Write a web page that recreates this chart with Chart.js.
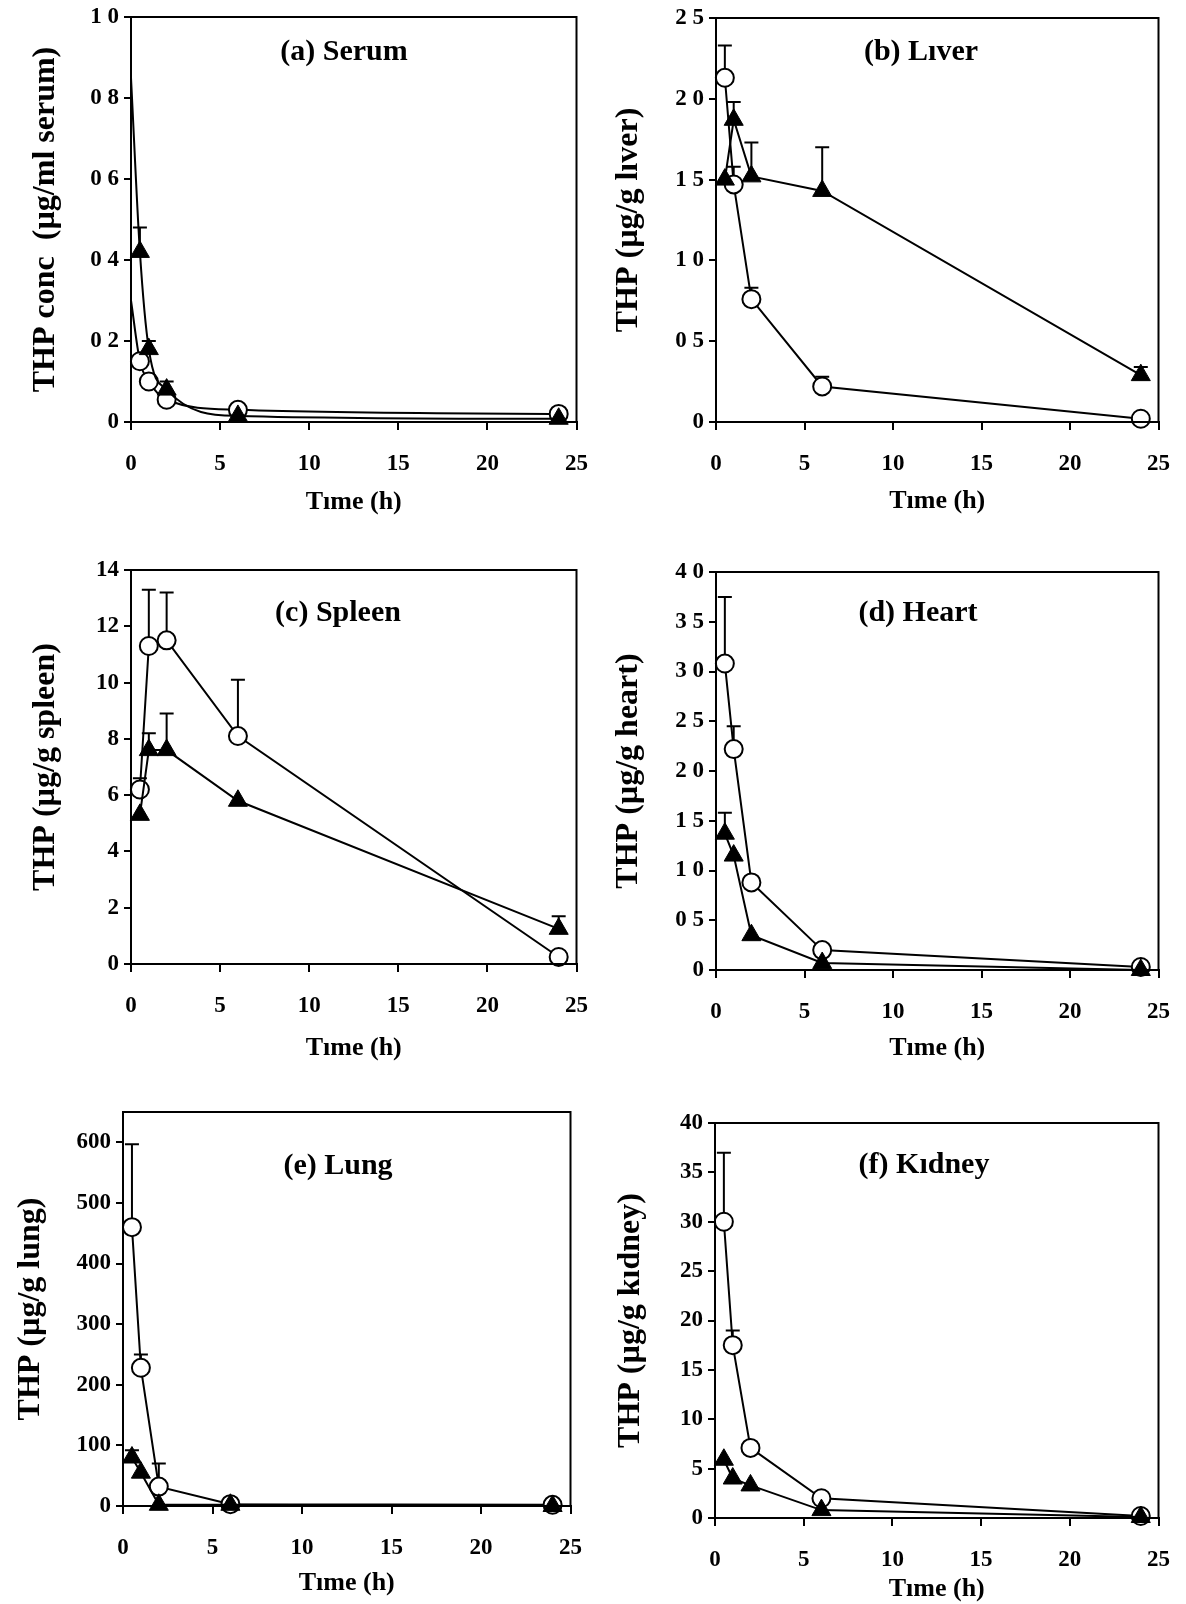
<!DOCTYPE html>
<html>
<head>
<meta charset="utf-8">
<script src="https://cdn.jsdelivr.net/npm/chart.js@4.4.0/dist/chart.umd.min.js"></script>
<style>
  body { margin: 0; background: #fff; }
  #page { position: relative; width: 1186px; height: 1604px; background: #fff; overflow: hidden; }
  canvas { position: absolute; }
</style>
</head>
<body>
<div id="page"></div>
<script>
// sampling times (h)
var times = [0.5, 1, 2, 6, 24];
var serumTimes = [0, 0.5, 1, 2, 6, 24];
var xTicks = [0, 5, 10, 15, 20, 25];
var xTickLabels = ['0', '5', '10', '15', '20', '25'];

// (a) serum
var serumCircle = [0.30, 0.15, 0.10, 0.055, 0.03, 0.02];
var serumCircleErr = [null, null, null, null, null, null];
var serumTri = [0.85, 0.42, 0.18, 0.08, 0.015, 0.008];
var serumTriErr = [null, 0.48, 0.20, 0.10, null, null];
var serumTicks = [0, 0.2, 0.4, 0.6, 0.8, 1.0];
var serumTickLabels = ['0', '0 2', '0 4', '0 6', '0 8', '1 0'];

// (b) liver
var liverCircle = [2.13, 1.47, 0.76, 0.22, 0.02];
var liverCircleErr = [2.33, 1.58, 0.83, 0.28, null];
var liverTri = [1.50, 1.87, 1.52, 1.43, 0.29];
var liverTriErr = [null, 1.98, 1.73, 1.70, 0.34];
var liverTicks = [0, 0.5, 1.0, 1.5, 2.0, 2.5];
var liverTickLabels = ['0', '0 5', '1 0', '1 5', '2 0', '2 5'];

// (c) spleen
var spleenCircle = [6.2, 11.3, 11.5, 8.1, 0.25];
var spleenCircleErr = [6.6, 13.3, 13.2, 10.1, null];
var spleenTri = [5.3, 7.6, 7.6, 5.8, 1.25];
var spleenTriErr = [null, 8.2, 8.9, null, 1.7];
var spleenTicks = [0, 2, 4, 6, 8, 10, 12, 14];
var spleenTickLabels = ['0', '2', '4', '6', '8', '10', '12', '14'];

// (d) heart
var heartCircle = [3.08, 2.22, 0.88, 0.20, 0.03];
var heartCircleErr = [3.75, 2.45, null, null, null];
var heartTri = [1.37, 1.15, 0.35, 0.07, 0.0];
var heartTriErr = [1.58, null, null, null, null];
var heartTicks = [0, 0.5, 1.0, 1.5, 2.0, 2.5, 3.0, 3.5, 4.0];
var heartTickLabels = ['0', '0 5', '1 0', '1 5', '2 0', '2 5', '3 0', '3 5', '4 0'];

// (e) lung
var lungCircle = [460, 228, 32, 3, 2];
var lungCircleErr = [597, 250, 70, null, null];
var lungTri = [80, 55, 2, 2, 0];
var lungTriErr = [92, null, null, null, null];
var lungTicks = [0, 100, 200, 300, 400, 500, 600];
var lungTickLabels = ['0', '100', '200', '300', '400', '500', '600'];

// (f) kidney
var kidneyCircle = [30, 17.5, 7.1, 2.0, 0.2];
var kidneyCircleErr = [37, 19, null, null, null];
var kidneyTri = [5.9, 4.0, 3.3, 0.8, 0.1];
var kidneyTriErr = [null, null, null, null, null];
var kidneyTicks = [0, 5, 10, 15, 20, 25, 30, 35, 40];
var kidneyTickLabels = ['0', '5', '10', '15', '20', '25', '30', '35', '40'];

Chart.defaults.font.family = "'Liberation Serif', 'Times New Roman', serif";
Chart.defaults.font.weight = 'bold';
Chart.defaults.color = '#000';

function pts(xs, ys) {
    return xs.map(function(x, i) { return {x: x, y: ys[i]}; });
}

// upward error bars, drawn under the markers
var errorBars = {
    id: 'errorBars',
    beforeDatasetsDraw: function(chart) {
        var ctx = chart.ctx;
        var xs = chart.scales.x, ys = chart.scales.y;
        chart.data.datasets.forEach(function(ds) {
            if (!ds.errHi) return;
            ds.data.forEach(function(p, i) {
                var hi = ds.errHi[i];
                if (hi == null) return;
                var px = xs.getPixelForValue(p.x);
                var py = ys.getPixelForValue(p.y);
                var pe = ys.getPixelForValue(hi);
                ctx.save();
                ctx.strokeStyle = '#000';
                ctx.lineWidth = 2;
                ctx.beginPath();
                ctx.moveTo(px, py);
                ctx.lineTo(px, pe);
                ctx.moveTo(px - 7, pe);
                ctx.lineTo(px + 7, pe);
                ctx.stroke();
                ctx.restore();
            });
        });
    }
};

// box round the plot + panel name
var frame = {
    id: 'frame',
    afterDraw: function(chart, args, opts) {
        var a = chart.chartArea, ctx = chart.ctx;
        ctx.save();
        ctx.strokeStyle = '#000';
        ctx.lineWidth = 2;
        ctx.strokeRect(a.left, a.top, a.right - a.left, a.bottom - a.top);
        ctx.fillStyle = '#000';
        ctx.font = "bold 30px 'Liberation Serif', serif";
        ctx.textAlign = 'center';
        ctx.textBaseline = 'middle';
        ctx.fillText(opts.text, a.left + opts.dx, a.top + opts.dy);
        ctx.restore();
    }
};

// L/R/T/B = plot box on the page, yc = y title centre, xg = x title gap below axis
var panels = [
    {name: '(a) Serum', yTitle: 'THP conc  (µg/ml serum)', x: serumTimes, circle: serumCircle, circleErr: serumCircleErr,
     tri: serumTri, triErr: serumTriErr, ticks: serumTicks, labels: serumTickLabels, yMax: 1.0,
     L: 131, R: 583, T: 17, B: 422, dx: 213, dy: 35, yc: 46, xg: 80, smooth: true, hideFirst: true},
    {name: '(b) Lıver', yTitle: 'THP (µg/g lıver)', x: times, circle: liverCircle, circleErr: liverCircleErr,
     tri: liverTri, triErr: liverTriErr, ticks: liverTicks, labels: liverTickLabels, yMax: 2.5,
     L: 716, R: 1165, T: 18, B: 422, dx: 205, dy: 34, yc: 629, xg: 79},
    {name: '(c) Spleen', yTitle: 'THP (µg/g spleen)', x: times, circle: spleenCircle, circleErr: spleenCircleErr,
     tri: spleenTri, triErr: spleenTriErr, ticks: spleenTicks, labels: spleenTickLabels, yMax: 14,
     L: 131, R: 583, T: 570, B: 964, dx: 207, dy: 43, yc: 46, xg: 84},
    {name: '(d) Heart', yTitle: 'THP (µg/g heart)', x: times, circle: heartCircle, circleErr: heartCircleErr,
     tri: heartTri, triErr: heartTriErr, ticks: heartTicks, labels: heartTickLabels, yMax: 4.0,
     L: 716, R: 1165, T: 572, B: 970, dx: 202, dy: 41, yc: 629, xg: 78},
    {name: '(e) Lung', yTitle: 'THP (µg/g lung)', x: times, circle: lungCircle, circleErr: lungCircleErr,
     tri: lungTri, triErr: lungTriErr, ticks: lungTicks, labels: lungTickLabels, yMax: 650,
     L: 123, R: 577, T: 1112, B: 1506, dx: 215, dy: 54, yc: 31, xg: 77},
    {name: '(f) Kıdney', yTitle: 'THP (µg/g kıdney)', x: times, circle: kidneyCircle, circleErr: kidneyCircleErr,
     tri: kidneyTri, triErr: kidneyTriErr, ticks: kidneyTicks, labels: kidneyTickLabels, yMax: 40,
     L: 715, R: 1165, T: 1123, B: 1518, dx: 209, dy: 42, yc: 631, xg: 71}
];

var YW = 131, XH = 100, PADT = 20, PADR = 25;
var TITLE_Y = 32, TITLE_X = 26;

panels.forEach(function(p) {
    var cv = document.createElement('canvas');
    var w = (p.R - p.L) + YW + PADR;
    var h = (p.B - p.T) + PADT + XH;
    var left = p.L - YW;
    cv.width = w; cv.height = h;
    cv.style.left = left + 'px';
    cv.style.top = (p.T - PADT) + 'px';
    cv.style.width = w + 'px';
    cv.style.height = h + 'px';
    document.getElementById('page').appendChild(cv);

    var radii = p.x.map(function(t, i) { return (p.hideFirst && i === 0) ? 0 : 9; });
    var triRadii = p.x.map(function(t, i) { return (p.hideFirst && i === 0) ? 0 : 11; });
    var yPad = p.yc - left - TITLE_Y * 1.2 / 2;
    var xPad = XH - p.xg - TITLE_X * 1.2 / 2;

    new Chart(cv.getContext('2d'), {
        type: 'scatter',
        data: {
            datasets: [{
                data: pts(p.x, p.circle),
                errHi: p.circleErr,
                showLine: true,
                borderColor: '#000',
                borderWidth: 2,
                backgroundColor: '#fff',
                pointStyle: 'circle',
                pointRadius: radii,
                pointBorderWidth: 2,
                pointBorderColor: '#000',
                pointBackgroundColor: '#fff',
                cubicInterpolationMode: p.smooth ? 'monotone' : 'default',
                tension: p.smooth ? 0.4 : 0,
                clip: false,
                order: 1
            }, {
                data: pts(p.x, p.tri),
                errHi: p.triErr,
                showLine: true,
                borderColor: '#000',
                borderWidth: 2,
                backgroundColor: '#000',
                pointStyle: 'triangle',
                pointRadius: triRadii,
                pointBorderWidth: 1,
                pointBorderColor: '#000',
                pointBackgroundColor: '#000',
                cubicInterpolationMode: p.smooth ? 'monotone' : 'default',
                tension: p.smooth ? 0.4 : 0,
                clip: false,
                order: 0
            }]
        },
        options: {
            responsive: false,
            animation: false,
            devicePixelRatio: 1,
            layout: { padding: { top: PADT, right: PADR, left: 0, bottom: 0 } },
            plugins: {
                legend: { display: false },
                tooltip: { enabled: false },
                frame: { text: p.name, dx: p.dx, dy: p.dy }
            },
            scales: {
                x: {
                    type: 'linear',
                    min: 0, max: 25,
                    afterBuildTicks: function(s) { s.ticks = xTicks.map(function(v) { return {value: v}; }); },
                    afterFit: function(s) { s.height = XH; },
                    ticks: {
                        autoSkip: false, maxRotation: 0, padding: 20,
                        font: { size: 23, weight: 'bold' }, color: '#000',
                        callback: function(v, i) { return xTickLabels[i]; }
                    },
                    grid: { drawOnChartArea: false, drawTicks: true, tickLength: 8, color: '#000', lineWidth: 2 },
                    border: { display: true, color: '#000', width: 2 },
                    title: { display: true, text: 'Tıme (h)', color: '#000',
                             font: { size: TITLE_X, weight: 'bold' }, padding: { top: 0, bottom: xPad } }
                },
                y: {
                    type: 'linear',
                    min: 0, max: p.yMax,
                    afterBuildTicks: function(s) { s.ticks = p.ticks.map(function(v) { return {value: v}; }); },
                    afterFit: function(s) { s.width = YW; },
                    ticks: {
                        autoSkip: false, padding: 5,
                        font: { size: 23, weight: 'bold' }, color: '#000',
                        callback: function(v, i) { return p.labels[i]; }
                    },
                    grid: { drawOnChartArea: false, drawTicks: true, tickLength: 7, color: '#000', lineWidth: 2 },
                    border: { display: true, color: '#000', width: 2 },
                    title: { display: true, text: p.yTitle, color: '#000',
                             font: { size: TITLE_Y, weight: 'bold' }, padding: { top: yPad, bottom: 0 } }
                }
            }
        },
        plugins: [errorBars, frame]
    });
});
</script>
</body>
</html>
